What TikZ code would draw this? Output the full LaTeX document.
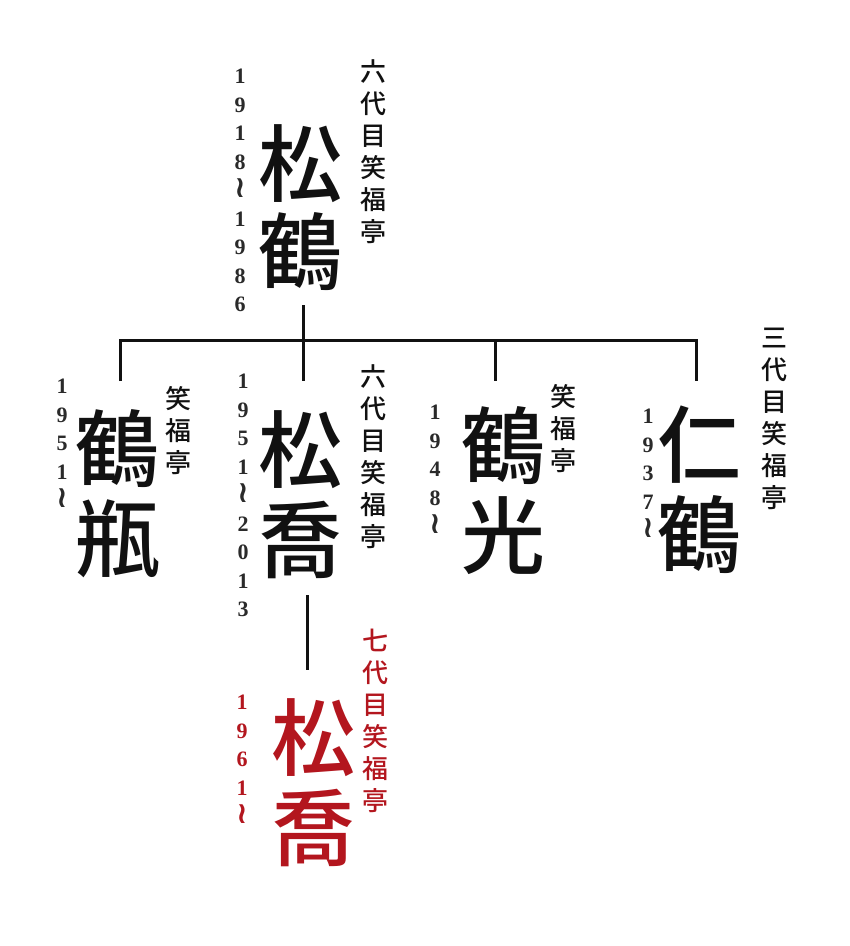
\documentclass[tikz,border=0pt]{standalone}
\usepackage{fontspec}
\setmainfont{Liberation Serif}
\newfontfamily\cjk{Noto Sans CJK JP}[UprightFont=* Medium, BoldFont=* Bold]
\newfontfamily\dejavu{DejaVu Sans}
\newcommand\vtl{{\dejavu\fontsize{30}{28.5}\selectfont ≀}}
\definecolor{ink}{HTML}{111111}
\definecolor{digit}{HTML}{2A2A2A}
\definecolor{redink}{HTML}{B3161E}
\tikzset{
  bigname/.style={font=\cjk\fontsize{84}{90}\selectfont, align=center, inner sep=0pt, anchor=north, text=ink},
  title/.style={font=\cjk\fontsize{26}{32}\selectfont, align=center, inner sep=0pt, anchor=north, text=ink},
  years/.style={font=\bfseries\fontsize{22}{28.5}\selectfont, align=center, inner sep=0pt, anchor=north, text=digit},
  tree/.style={line width=3pt, draw=ink},
}
\begin{document}
\begin{tikzpicture}[x=1pt,y=-1pt]
\useasboundingbox (0,0) rectangle (850,946);
% top
\node[bigname, font=\cjk\fontsize{84}{88}\selectfont] (shokaku) at (300,124) {松\\鶴};
\node[years] (y1) at (240,69) {1\\9\\1\\8\\\vtl\\1\\9\\8\\6};
\node[title] (t1) at (373,59) {六\\代\\目\\笑\\福\\亭};
% row 2
\node[bigname] (kakubei) at (117,409) {鶴\\瓶};
\node[years] (y2) at (62,379) {1\\9\\5\\1\\\vtl};
\node[title] (t2) at (178,386) {笑\\福\\亭};
\node[bigname] (shokyo) at (300,410) {松\\喬};
\node[years] (y3) at (243,374) {1\\9\\5\\1\\\vtl\\2\\0\\1\\3};
\node[title] (t3) at (373,364) {六\\代\\目\\笑\\福\\亭};
\node[bigname] (kakko) at (503,406) {鶴\\光};
\node[years] (y4) at (435,405) {1\\9\\4\\8\\\vtl};
\node[title] (t4) at (563,384) {笑\\福\\亭};
\node[bigname] (nikaku) at (699,406) {仁\\鶴};
\node[years] (y5) at (648,409) {1\\9\\3\\7\\\vtl};
\node[title] (t5) at (774,328) {三\\代\\目\\笑\\福\\亭};
% bottom red
\node[bigname, text=redink] (shokyo7) at (313,698) {松\\喬};
\node[years, text=redink] (y6) at (242,695) {1\\9\\6\\1\\\vtl};
\node[title, text=redink] (t6) at (375,629) {七\\代\\目\\笑\\福\\亭};
% tree
\coordinate (top) at (303,305);
\coordinate (bL) at (120,340);
\coordinate (bR) at (696,340);
\coordinate (dy) at (0,381);
\coordinate (bK) at (495,340);
\coordinate (bM) at (303,340);
\draw[tree] (bL |- dy) -- (bL) -- (bR) -- (bR |- dy);
\draw[tree] (top) -- (bM) -- (bM |- dy);
\draw[tree] (bK) -- (bK |- dy);
\coordinate (s1) at (307,595);
\coordinate (s2) at (307,670);
\draw[tree] (s1) -- (s2);
\end{tikzpicture}
\end{document}
